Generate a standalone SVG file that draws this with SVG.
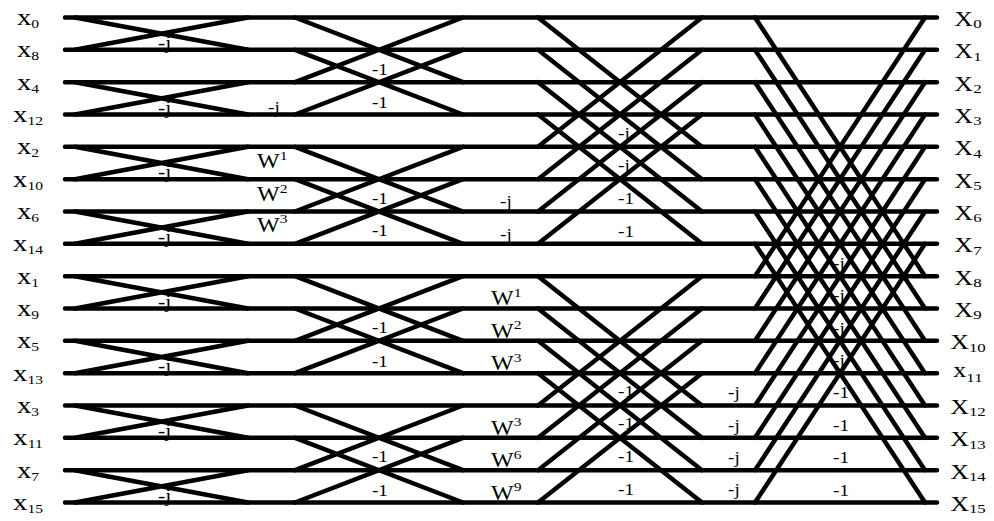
<svg xmlns="http://www.w3.org/2000/svg" width="994" height="521" viewBox="0 0 994 521">
<style>
.t{font-family:"Liberation Serif","Times New Roman",serif;fill:#000}
.in{font-size:24px;text-anchor:middle}
.out{font-size:20px;text-anchor:middle}
.w{font-size:20px}
.l{font-size:16px}
.l1{font-size:18px}
.s{font-size:13px}
.p{font-size:13px}
.ln{fill:none;stroke:#000;stroke-width:4.5;stroke-linecap:round;stroke-linejoin:round}
</style>
<rect width="994" height="521" fill="#fff"/>
<g id="labels" class="t">
<g id="inputs" class="in" transform="scale(1.2 1)">
<text x="23.33" y="25">x<tspan class="s" dy="3">0</tspan></text>
<text x="23.33" y="57.3">x<tspan class="s" dy="3">8</tspan></text>
<text x="23.33" y="89.7">x<tspan class="s" dy="3">4</tspan></text>
<text x="23.33" y="122">x<tspan class="s" dy="3">12</tspan></text>
<text x="23.33" y="154.3">x<tspan class="s" dy="3">2</tspan></text>
<text x="23.33" y="186.7">x<tspan class="s" dy="3">10</tspan></text>
<text x="23.33" y="219">x<tspan class="s" dy="3">6</tspan></text>
<text x="23.33" y="251.3">x<tspan class="s" dy="3">14</tspan></text>
<text x="23.33" y="283.7">x<tspan class="s" dy="3">1</tspan></text>
<text x="23.33" y="316">x<tspan class="s" dy="3">9</tspan></text>
<text x="23.33" y="348.3">x<tspan class="s" dy="3">5</tspan></text>
<text x="23.33" y="380.7">x<tspan class="s" dy="3">13</tspan></text>
<text x="23.33" y="413">x<tspan class="s" dy="3">3</tspan></text>
<text x="23.33" y="445.3">x<tspan class="s" dy="3">11</tspan></text>
<text x="23.33" y="477.7">x<tspan class="s" dy="3">7</tspan></text>
<text x="23.33" y="510">x<tspan class="s" dy="3">15</tspan></text>
</g>
<g id="outputs" class="out" transform="scale(1.3 1)">
<text x="744.6" y="26">X<tspan class="s" dy="2.5">0</tspan></text>
<text x="744.6" y="58.3">X<tspan class="s" dy="2.5">1</tspan></text>
<text x="744.6" y="90.7">X<tspan class="s" dy="2.5">2</tspan></text>
<text x="744.6" y="123">X<tspan class="s" dy="2.5">3</tspan></text>
<text x="744.6" y="155.3">X<tspan class="s" dy="2.5">4</tspan></text>
<text x="744.6" y="187.7">X<tspan class="s" dy="2.5">5</tspan></text>
<text x="744.6" y="220">X<tspan class="s" dy="2.5">6</tspan></text>
<text x="744.6" y="252.3">X<tspan class="s" dy="2.5">7</tspan></text>
<text x="744.6" y="284.7">X<tspan class="s" dy="2.5">8</tspan></text>
<text x="744.6" y="317">X<tspan class="s" dy="2.5">9</tspan></text>
<text x="744.6" y="349.3">X<tspan class="s" dy="2.5">10</tspan></text>
<text x="744.6" y="377">x<tspan class="s" dy="5">11</tspan></text>
<text x="744.6" y="414">X<tspan class="s" dy="2.5">12</tspan></text>
<text x="744.6" y="446.3">X<tspan class="s" dy="2.5">13</tspan></text>
<text x="744.6" y="478.7">X<tspan class="s" dy="2.5">14</tspan></text>
<text x="744.6" y="511">X<tspan class="s" dy="2.5">15</tspan></text>
</g>
<g transform="scale(1.2 1)">
<g id="twiddles" class="w">
<text x="214.17" y="168.5">W<tspan class="p" dy="-8.5">1</tspan></text>
<text x="214.17" y="201.5">W<tspan class="p" dy="-8.5">2</tspan></text>
<text x="214.17" y="232">W<tspan class="p" dy="-8.5">3</tspan></text>
<text x="409.17" y="305.5">W<tspan class="p" dy="-8.5">1</tspan></text>
<text x="409.17" y="338">W<tspan class="p" dy="-8.5">2</tspan></text>
<text x="409.17" y="370.5">W<tspan class="p" dy="-8.5">3</tspan></text>
<text x="409.17" y="435">W<tspan class="p" dy="-8.5">3</tspan></text>
<text x="409.17" y="467.5">W<tspan class="p" dy="-8.5">6</tspan></text>
<text x="409.17" y="500">W<tspan class="p" dy="-8.5">9</tspan></text>
</g>
<g id="stage1-labels" class="l1">
<text x="131.67" y="49">-j</text>
<text x="131.67" y="113.7">-j</text>
<text x="131.67" y="178.4">-j</text>
<text x="131.67" y="243">-j</text>
<text x="131.67" y="307.7">-j</text>
<text x="131.67" y="372.4">-j</text>
<text x="131.67" y="437">-j</text>
<text x="131.67" y="501.7">-j</text>
</g>
<g id="stage2-labels" class="l">
<text x="223.33" y="113">-j</text>
<text x="310" y="75.5">-1</text>
<text x="310" y="108">-1</text>
<text x="310" y="204">-1</text>
<text x="310" y="236">-1</text>
<text x="310" y="333.5">-1</text>
<text x="310" y="366.5">-1</text>
<text x="310" y="462.5">-1</text>
<text x="310" y="496">-1</text>
</g>
<g id="stage3-labels" class="l">
<text x="416.67" y="207.5">-j</text>
<text x="416.67" y="240">-j</text>
<text x="515" y="139">-j</text>
<text x="515" y="171">-j</text>
<text x="515" y="204">-1</text>
<text x="515" y="237">-1</text>
<text x="515" y="397.5">-1</text>
<text x="515" y="429.5">-1</text>
<text x="515" y="462">-1</text>
<text x="515" y="495">-1</text>
</g>
<g id="stage4-labels" class="l">
<text x="606.67" y="398.5">-j</text>
<text x="606.67" y="431">-j</text>
<text x="606.67" y="463">-j</text>
<text x="606.67" y="495.5">-j</text>
<text x="694.17" y="269">-j</text>
<text x="694.17" y="301.5">-j</text>
<text x="694.17" y="334">-j</text>
<text x="694.17" y="366">-j</text>
<text x="694.17" y="398">-1</text>
<text x="694.17" y="431">-1</text>
<text x="694.17" y="463">-1</text>
<text x="694.17" y="496">-1</text>
</g>
</g>
</g>
<g id="connectors" class="ln">
<path id="wires" d="M65 17.5H937M65 49.8H937M65 82.2H937M65 114.5H937M65 146.8H937M65 179.2H937M65 211.5H937M65 243.8H937M65 276.2H937M65 308.5H937M65 340.8H937M65 373.2H937M65 405.5H937M65 437.8H937M65 470.2H937M65 502.5H937"/>
<path id="stage1" d="M75 17.5L248 49.8M75 49.8L248 17.5M75 82.2L248 114.5M75 114.5L248 82.2M75 146.8L248 179.2M75 179.2L248 146.8M75 211.5L248 243.8M75 243.8L248 211.5M75 276.2L248 308.5M75 308.5L248 276.2M75 340.8L248 373.2M75 373.2L248 340.8M75 405.5L248 437.8M75 437.8L248 405.5M75 470.2L248 502.5M75 502.5L248 470.2"/>
<path id="stage2" d="M295 17.5L463 82.2M295 82.2L463 17.5M295 49.8L463 114.5M295 114.5L463 49.8M295 146.8L463 211.5M295 211.5L463 146.8M295 179.2L463 243.8M295 243.8L463 179.2M295 276.2L463 340.8M295 340.8L463 276.2M295 308.5L463 373.2M295 373.2L463 308.5M295 405.5L463 470.2M295 470.2L463 405.5M295 437.8L463 502.5M295 502.5L463 437.8"/>
<path id="stage3" d="M538 17.5L702 146.8M538 146.8L702 17.5M538 49.8L702 179.2M538 179.2L702 49.8M538 82.2L702 211.5M538 211.5L702 82.2M538 114.5L702 243.8M538 243.8L702 114.5M538 276.2L702 405.5M538 405.5L702 276.2M538 308.5L702 437.8M538 437.8L702 308.5M538 340.8L702 470.2M538 470.2L702 340.8M538 373.2L702 502.5M538 502.5L702 373.2"/>
<path id="stage4" d="M755 17.5L925 276.2M755 276.2L925 17.5M755 49.8L925 308.5M755 308.5L925 49.8M755 82.2L925 340.8M755 340.8L925 82.2M755 114.5L925 373.2M755 373.2L925 114.5M755 146.8L925 405.5M755 405.5L925 146.8M755 179.2L925 437.8M755 437.8L925 179.2M755 211.5L925 470.2M755 470.2L925 211.5M755 243.8L925 502.5M755 502.5L925 243.8"/>
</g>
</svg>
